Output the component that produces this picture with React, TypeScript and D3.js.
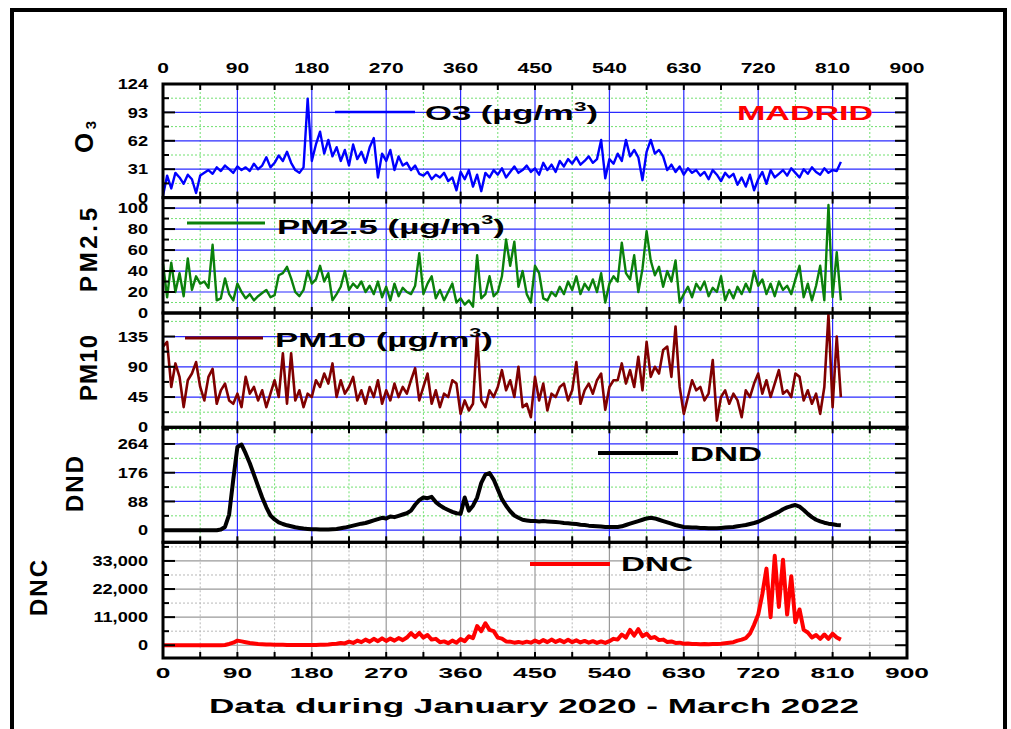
import React from 'react';
import * as d3 from 'd3';

// one reading every 5 days, day 0 = 1 Jan 2020
const STEP = 5;

const xTicks = [0, 90, 180, 270, 360, 450, 540, 630, 720, 810, 900];

const o3Ticks = [0, 31, 62, 93, 124];
const pm25Ticks = [0, 20, 40, 60, 80, 100];
const pm10Ticks = [0, 45, 90, 135];
const dndTicks = [0, 88, 176, 264];
const dncTicks = [0, 11000, 22000, 33000];
const dncTickLabels = ['0', '11,000', '22,000', '33,000'];

const o3 = [
  2, 24, 10, 27, 22, 15, 25, 20, 5, 24,
  27, 30, 26, 33, 29, 35, 31, 27, 34, 30,
  33, 29, 37, 31, 35, 44, 33, 38, 46, 40,
  50, 38, 30, 27, 33, 108, 40, 58, 72, 48,
  63, 45, 55, 40, 52, 35, 58, 42, 50, 38,
  55, 65, 22, 48, 40, 52, 30, 45, 35, 38,
  30, 35, 26, 24, 28, 20, 25, 22, 27, 18,
  22, 8, 28, 20, 30, 12, 25, 7, 27, 22,
  30, 25, 32, 22, 28, 34, 27, 30, 35, 28,
  32, 25, 38, 30, 36, 28, 40, 34, 42, 37,
  44, 36, 40, 45, 38, 42, 63, 21, 42, 37,
  48, 40, 63, 45, 52, 44, 19, 50, 63, 48,
  52, 45, 30, 36, 28, 34, 25, 32, 27, 30,
  24, 28, 20, 30, 25, 18, 27, 22, 26, 14,
  22, 12, 25, 8, 20, 28, 15, 30, 22, 26,
  30, 24, 32, 27, 22, 31, 26, 33, 28, 25,
  32, 27, 30, 29, 39,
];

const pm25 = [
  47, 15, 48, 20, 38, 16, 52, 22, 35, 28,
  30, 24, 65, 12, 14, 33, 18, 12, 28, 20,
  14, 18, 12, 16, 19, 22, 15, 17, 36, 38,
  44, 33, 20, 16, 22, 40, 28, 32, 45, 30,
  38, 12, 18, 25, 40, 22, 28, 24, 30, 20,
  26, 18, 30, 15, 25, 12, 28, 16, 24, 20,
  18, 26, 57, 18, 28, 35, 14, 22, 12, 20,
  28, 10, 14, 8, 12, 6, 55, 14, 18, 35,
  16, 20, 35, 70, 45, 68, 25, 40, 18, 10,
  45, 38, 14, 12, 20, 16, 25, 18, 30, 22,
  35, 18, 28, 22, 32, 20, 38, 10, 28, 35,
  30, 67, 38, 32, 55, 20, 42, 78, 50, 36,
  44, 25, 40, 30, 50, 10, 18, 25, 15, 28,
  22, 30, 16, 24, 20, 35, 12, 22, 14, 25,
  18, 28, 20, 40, 26, 32, 18, 28, 16, 30,
  22, 26, 18, 32, 45, 15, 28, 12, 26, 45,
  12, 103, 15, 58, 12,
];

const pm10 = [
  120, 127, 60, 95, 75, 30, 70, 80, 97, 60,
  40, 75, 87, 35, 55, 65, 40, 35, 50, 30,
  75, 50, 60, 40, 55, 30, 50, 70, 45, 110,
  35, 110, 40, 55, 30, 50, 45, 70, 60, 80,
  65, 95, 45, 70, 50, 60, 75, 40, 55, 35,
  60, 45, 70, 35, 55, 40, 65, 45, 60, 50,
  70, 88, 40, 60, 80, 35, 55, 30, 50, 45,
  70, 65, 20, 40, 25, 35, 138, 40, 30, 55,
  45, 60, 85, 55, 70, 45, 90, 30, 35, 15,
  75, 40, 65, 25, 50, 45, 60, 65, 40, 55,
  97, 35, 55, 65, 50, 70, 80, 26, 60, 70,
  70, 95, 65, 85, 60, 105, 55, 127, 75, 90,
  80, 115, 120, 75, 150, 60, 20, 45, 70, 55,
  60, 40, 50, 100, 10, 45, 55, 35, 50, 40,
  15, 55, 45, 65, 80, 50, 70, 45, 65, 85,
  50, 55, 45, 80, 75, 40, 55, 35, 50, 20,
  60, 168, 30, 135, 45,
];

const dnd = [
  0, 0, 0, 0, 0, 0, 0, 0, 0, 0,
  0, 0, 0, 0, 2, 10, 48, 155, 255, 262,
  235, 205, 170, 135, 100, 70, 45, 33, 24, 19,
  15, 12, 9, 7, 5, 4, 3, 3, 2, 2,
  2, 3, 4, 6, 8, 11, 14, 17, 20, 22,
  26, 30, 34, 38, 36, 42, 40, 44, 48, 52,
  60, 78, 92, 100, 98, 102, 86, 76, 68, 62,
  56, 52, 50, 100, 60, 75, 100, 145, 170, 175,
  155, 125, 95, 75, 58, 45, 38, 32, 30, 28,
  28, 27, 28, 27, 26, 25, 24, 22, 21, 20,
  19, 17, 16, 14, 13, 12, 11, 10, 10, 10,
  10, 12, 16, 20, 24, 28, 32, 36, 38, 36,
  32, 28, 24, 20, 16, 13, 10, 9, 8, 8,
  7, 7, 6, 6, 6, 7, 8, 9, 10, 12,
  14, 16, 19, 22, 26, 32, 38, 44, 50, 56,
  64, 70, 74, 77, 72, 62, 50, 40, 32, 27,
  23, 20, 18, 16, 15,
];

const dnc = [
  0, 0, 0, 0, 0, 0, 0, 0, 0, 0,
  0, 0, 0, 0, 0, 100, 500, 1000, 1800, 1500,
  1200, 900, 700, 500, 400, 300, 250, 200, 150, 150,
  100, 100, 100, 80, 80, 80, 100, 100, 150, 200,
  300, 500, 600, 900, 700, 1400, 900, 1800, 1200, 2200,
  1400, 2500, 1600, 2700, 1700, 2600, 1800, 2800, 2000, 3000,
  4700, 3200, 4800, 3000, 4000, 2200, 2500, 1200, 1500, 800,
  1800, 1000, 2400, 1600, 3500, 2800, 7500, 5500, 8600, 6000,
  5500, 3000, 2600, 1500, 1400, 1000, 1300, 900, 1400, 1000,
  1800, 1100, 2000, 1200, 2200, 1300, 2000, 1200, 2100, 1200,
  1900, 1100, 1700, 1000, 1600, 900, 1500, 900, 1600, 2500,
  2200, 4200, 3000, 6000, 3800, 6300, 3500, 4500, 2800, 3200,
  2000, 2200, 1300, 1500, 900, 1000, 600, 700, 500, 500,
  400, 500, 400, 500, 500, 600, 800, 1000, 1200, 1800,
  2200, 2800, 4500, 8000, 12000, 20000, 30000, 11000, 35000, 15000,
  33500, 12000, 27000, 9000, 14000, 6000, 5000, 3000, 4000, 2500,
  4200, 2500, 4500, 3000, 2200,
];

const FONT = 'Liberation Sans, Arial, Helvetica, sans-serif';
const NARROW = 'Liberation Sans Narrow, Liberation Sans, Arial, sans-serif';

const x = d3.scaleLinear().domain([0, 900]).range([163, 907]);

const panels = [
  { key: 'o3', values: o3, domain: [0, 124], top: 84, bottom: 197.6, color: '#0000ff', lw: 2.4, ticks: o3Ticks, labels: o3Ticks.map(String), gray: false },
  { key: 'pm25', values: pm25, domain: [0, 110], top: 197.6, bottom: 313, color: '#0b800b', lw: 2.4, ticks: pm25Ticks, labels: pm25Ticks.map(String), gray: false },
  { key: 'pm10', values: pm10, domain: [0, 170], top: 313, bottom: 427.3, color: '#800000', lw: 2.6, ticks: pm10Ticks, labels: pm10Ticks.map(String), gray: false },
  { key: 'dnd', values: dnd, domain: [-37, 315], top: 427.3, bottom: 542.3, color: '#000000', lw: 4, ticks: dndTicks, labels: dndTicks.map(String), gray: false },
  { key: 'dnc', values: dnc, domain: [-5000, 40300], top: 542.3, bottom: 658, color: '#ff0000', lw: 4, ticks: dncTicks, labels: dncTickLabels, gray: true },
];

function majorMinor(ticks: number[], domain: number[]) {
  const step = ticks[1] - ticks[0];
  const half = step / 2;
  const major: number[] = [];
  const minor: number[] = [];
  for (let v = Math.ceil(domain[0] / half) * half; v <= domain[1]; v += half) {
    const r = v / step;
    if (Math.abs(r - Math.round(r)) < 1e-6) major.push(v);
    else minor.push(v);
  }
  return { major, minor };
}

const Stretch = ({ x, y, sx, size, anchor, fill = '#000', children }: any) => (
  <text
    transform={`translate(${x},${y}) scale(${sx},1)`}
    textAnchor={anchor}
    dominantBaseline="central"
    fontFamily={FONT}
    fontWeight="bold"
    fontSize={size}
    fill={fill}
  >
    {children}
  </text>
);

const PanelView = ({ p }: any) => {
  const y = d3.scaleLinear().domain(p.domain).range([p.bottom, p.top]);
  const { major, minor } = majorMinor(p.ticks, p.domain);
  const line = d3.line<number>().x((_, i) => x(i * STEP)).y(d => y(d));
  const majorColor = p.gray ? '#9a9a9a' : '#2a2aff';
  const minorColor = p.gray ? '#b8b8b8' : '#70e070';
  const xMajor = d3.range(90, 900, 90);
  const xMinor = d3.range(45, 900, 90);
  const xTickPos = d3.range(45, 900, 45);
  return (
    <g>
      {xMinor.map(d => (
        <line key={'vm' + d} x1={x(d)} x2={x(d)} y1={p.top} y2={p.bottom} stroke={minorColor} strokeDasharray="2,2" strokeWidth={1} />
      ))}
      {minor.map(v => (
        <line key={'hm' + v} x1={x(0)} x2={x(900)} y1={y(v)} y2={y(v)} stroke={minorColor} strokeDasharray="2,2" strokeWidth={1} />
      ))}
      {xMajor.map(d => (
        <line key={'vM' + d} x1={x(d)} x2={x(d)} y1={p.top} y2={p.bottom} stroke={majorColor} strokeWidth={1.2} />
      ))}
      {major.map(v => (
        <line key={'hM' + v} x1={x(0)} x2={x(900)} y1={y(v)} y2={y(v)} stroke={majorColor} strokeWidth={1.2} />
      ))}
      <path d={line(p.values) || ''} fill="none" stroke={p.color} strokeWidth={p.lw} strokeLinejoin="round" />
      {xTickPos.map(d => (
        <g key={'xt' + d}>
          <line x1={x(d)} x2={x(d)} y1={p.top} y2={p.top + 6} stroke="#000" strokeWidth={2} />
          <line x1={x(d)} x2={x(d)} y1={p.bottom} y2={p.bottom - 6} stroke="#000" strokeWidth={2} />
        </g>
      ))}
      {major.concat(minor).map(v => {
        const isMajor = major.includes(v);
        return (
          <g key={'yt' + v}>
            <line x1={x(0)} x2={x(0) + (isMajor ? 12 : 6)} y1={y(v)} y2={y(v)} stroke="#000" strokeWidth={2} />
            <line x1={x(900)} x2={x(900) - 12} y1={y(v)} y2={y(v)} stroke="#000" strokeWidth={2} />
          </g>
        );
      })}
      <rect x={x(0)} y={p.top} width={x(900) - x(0)} height={p.bottom - p.top} fill="none" stroke="#000" strokeWidth={3} />
      {p.ticks.map((v: number, i: number) => (
        <Stretch key={'yl' + v} x={148} y={y(v)} sx={1.3} size={14} anchor="end">{p.labels[i]}</Stretch>
      ))}
    </g>
  );
};

const LegendLine = ({ x1, x2, y, color, w }: any) => (
  <line x1={x1} x2={x2} y1={y} y2={y} stroke={color} strokeWidth={w} />
);

const LegendText = ({ x, y, len, fill = '#000', size = 20, children }: any) => (
  <text x={x} y={y} textLength={len} lengthAdjust="spacingAndGlyphs" dominantBaseline="central"
    fontFamily={FONT} fontWeight="bold" fontSize={size} fill={fill}>
    {children}
  </text>
);

const AxisTitle = ({ cx, cy, len, size = 24, children }: any) => (
  <text transform={`translate(${cx},${cy}) rotate(-90)`} textAnchor="middle" dominantBaseline="central"
    textLength={len} lengthAdjust="spacing"
    fontFamily={NARROW} fontWeight="bold" fontSize={size} fill="#000">
    {children}
  </text>
);

export default function App() {
  return (
    <svg width={1011} height={729} style={{ position: 'absolute', left: 0, top: 0, background: '#fff' }}>
      <rect x={0} y={0} width={1011} height={729} fill="#fff" />
      <rect x={12} y={10} width={993} height={740} fill="none" stroke="#000" strokeWidth={4} />

      {panels.map(p => <PanelView key={p.key} p={p} />)}

      {/* top and bottom x tick labels */}
      {xTicks.map(d => (
        <Stretch key={'xt' + d} x={x(d)} y={68} sx={1.4} size={15} anchor="middle">{d}</Stretch>
      ))}
      {xTicks.map(d => (
        <Stretch key={'xb' + d} x={x(d)} y={673} sx={1.7} size={15.5} anchor="middle">{d}</Stretch>
      ))}
      <LegendText x={209} y={705} len={650} size={21}>Data during January 2020 - March 2022</LegendText>

      {/* legends */}
      <LegendLine x1={335} x2={415} y={112} color="#0000ff" w={2.5} />
      <LegendText x={425} y={113} len={173}>O3 (µg/m<tspan dy={-7} fontSize={13}>3</tspan><tspan dy={7}>)</tspan></LegendText>
      <LegendText x={737} y={112} len={136} fill="#ff0000" size={21}>MADRID</LegendText>

      <LegendLine x1={187} x2={265} y={223} color="#0b800b" w={3} />
      <LegendText x={277} y={226} len={228} size={21}>PM2.5 (µg/m<tspan dy={-7} fontSize={13}>3</tspan><tspan dy={7}>)</tspan></LegendText>

      <LegendLine x1={185} x2={263} y={338} color="#800000" w={3} />
      <LegendText x={275} y={339} len={218} size={21}>PM10 (µg/m<tspan dy={-7} fontSize={13}>3</tspan><tspan dy={7}>)</tspan></LegendText>

      <LegendLine x1={598} x2={678} y={453} color="#000000" w={4} />
      <LegendText x={690} y={453} len={72} size={21}>DND</LegendText>

      <LegendLine x1={530} x2={610} y={564} color="#ff0000" w={4} />
      <LegendText x={621} y={563} len={72} size={21}>DNC</LegendText>

      {/* y axis titles */}
      <AxisTitle cx={84} cy={137} len={32} size={26}>O<tspan dy={6} fontSize={15}>3</tspan></AxisTitle>
      <AxisTitle cx={88} cy={250} len={84} size={24}>PM2.5</AxisTitle>
      <AxisTitle cx={88} cy={368} len={66} size={24}>PM10</AxisTitle>
      <AxisTitle cx={74} cy={484} len={56} size={24}>DND</AxisTitle>
      <AxisTitle cx={38} cy={588} len={56} size={24}>DNC</AxisTitle>
    </svg>
  );
}
